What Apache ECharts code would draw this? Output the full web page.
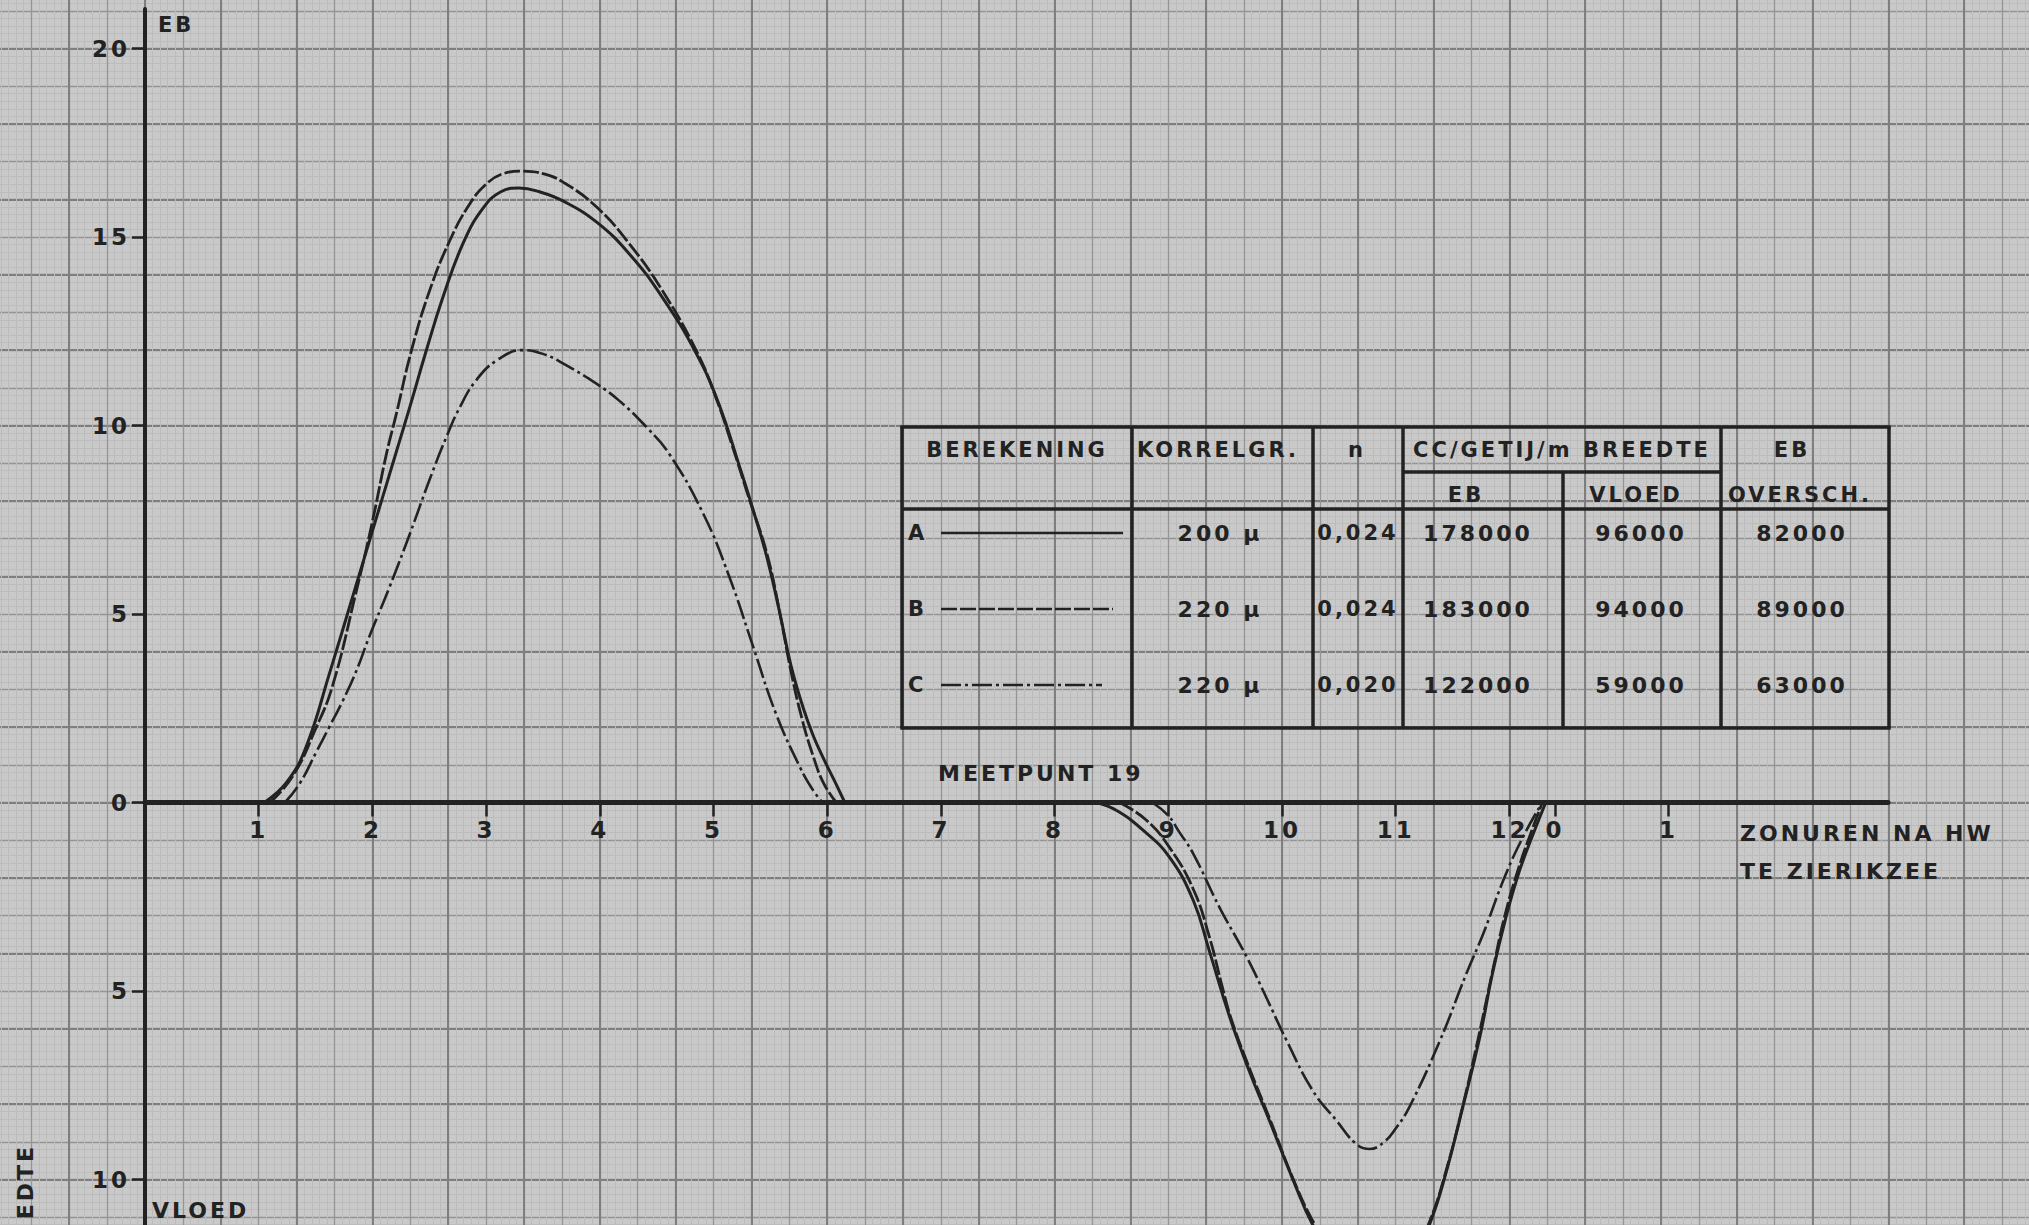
<!DOCTYPE html>
<html>
<head>
<meta charset="utf-8">
<script src="https://cdn.jsdelivr.net/npm/echarts@6/dist/echarts.min.js"></script>
<style>
html, body { margin: 0; padding: 0; background: #c9c9c9; }
#chart { width: 2029px; height: 1225px; }
#chart text { letter-spacing: 3px; }
</style>
</head>
<body>
<div id="chart"></div>
<script>
// ---------------- DATA ----------------
// x: hours after high water at Zierikzee; y: transport per m width (EB positive, VLOED negative)
const hourTicks = [1, 2, 3, 4, 5, 6, 7, 8, 9, 10, 11, 12, 12.4, 13.4];
const hourTickLabels = ['1', '2', '3', '4', '5', '6', '7', '8', '9', '10', '11', '12', '0', '1'];
const valueTicks = [-10, -5, 0, 5, 10, 15, 20];
const valueTickLabels = ['10', '5', '0', '5', '10', '15', '20'];

// Berekening A (solid)
const curveA_eb = [[1.05,0],[1.25,0.55],[1.42,1.5],[1.62,3.4],[1.85,5.7],[2.0,7.2],[2.18,9.0],[2.33,10.5],[2.47,11.95],[2.62,13.4],[2.8,14.85],[2.97,15.75],[3.13,16.2],[3.29,16.3],[3.47,16.2],[3.68,15.95],[3.97,15.4],[4.26,14.55],[4.55,13.4],[4.85,11.9],[5.05,10.55],[5.23,8.9],[5.35,7.75],[5.47,6.5],[5.585,5.0],[5.68,3.65],[5.79,2.5],[5.88,1.75],[5.97,1.15],[6.06,0.6],[6.155,0]];
const curveA_vloed = [[8.37,0],[8.55,-0.22],[8.78,-0.74],[9.01,-1.45],[9.22,-2.6],[9.36,-3.93],[9.54,-5.69],[9.71,-7.11],[9.89,-8.44],[10.1,-10.03],[10.27,-11.2],[10.5,-12.3],[10.75,-12.95],[10.95,-12.85],[11.15,-12.1],[11.3,-11.17],[11.44,-9.85],[11.59,-8.08],[11.74,-6.22],[11.85,-4.55],[11.97,-3.04],[12.09,-1.8],[12.21,-0.83],[12.32,0]];
// Berekening B (dashed)
const curveB_eb = [[1.10,0],[1.30,0.7],[1.50,1.95],[1.65,3.1],[1.85,5.5],[2.0,7.45],[2.12,9.2],[2.21,10.3],[2.34,11.95],[2.50,13.55],[2.68,14.9],[2.85,15.85],[3.0,16.4],[3.15,16.68],[3.32,16.75],[3.50,16.68],[3.68,16.45],[3.97,15.8],[4.26,14.82],[4.55,13.58],[4.85,11.98],[5.02,10.75],[5.15,9.6],[5.32,8.0],[5.47,6.6],[5.585,5.0],[5.68,3.5],[5.78,2.2],[5.88,1.2],[5.97,0.5],[6.08,0]];
const curveB_vloed = [[8.57,0],[8.8,-0.45],[9.01,-1.19],[9.22,-2.3],[9.36,-3.55],[9.48,-4.95],[9.56,-5.8],[9.72,-7.1],[9.9,-8.45],[10.1,-10.0],[10.28,-11.15],[10.5,-12.2],[10.75,-12.85],[10.95,-12.75],[11.15,-12.0],[11.3,-11.1],[11.44,-9.8],[11.59,-8.05],[11.73,-6.2],[11.85,-4.5],[11.96,-3.0],[12.08,-1.75],[12.19,-0.8],[12.29,0]];
// Berekening C (dash-dot)
const curveC_eb = [[1.23,0],[1.36,0.5],[1.50,1.3],[1.62,2.0],[1.74,2.7],[1.86,3.5],[1.97,4.38],[2.15,5.71],[2.33,7.13],[2.50,8.54],[2.65,9.69],[2.77,10.49],[2.91,11.19],[3.09,11.72],[3.32,12.0],[3.50,11.9],[3.68,11.64],[3.97,11.11],[4.17,10.66],[4.41,9.96],[4.61,9.25],[4.91,7.66],[5.14,5.98],[5.35,4.12],[5.55,2.35],[5.76,0.94],[5.87,0.35],[5.96,0]];
const curveC_vloed = [[8.86,0],[9.0,-0.35],[9.1,-0.8],[9.22,-1.36],[9.45,-2.78],[9.69,-4.1],[9.86,-5.16],[10.04,-6.31],[10.27,-7.64],[10.48,-8.44],[10.65,-9.05],[10.77,-9.19],[10.9,-9.0],[11.0,-8.65],[11.12,-8.08],[11.39,-6.31],[11.62,-4.55],[11.77,-3.48],[11.97,-1.89],[12.15,-0.74],[12.29,0]];

// Table
const tableHeaders = ['BEREKENING', 'KORRELGR.', 'n', 'CC/GETIJ/m BREEDTE', 'EB'];
const tableSubHeaders = ['EB', 'VLOED', 'OVERSCH.'];
const calcNames = ['A', 'B', 'C'];
const grainSizes = ['200 μ', '220 μ', '220 μ'];
const roughness = ['0,024', '0,024', '0,020'];
const ebTransport = ['178000', '183000', '122000'];
const floodTransport = ['96000', '94000', '59000'];
const ebSurplus = ['82000', '89000', '63000'];

// Texts
const axisTopLabel = 'EB';
const axisBottomLabel = 'VLOED';
const sideLabel = 'EDTE';
const stationLabel = 'MEETPUNT 19';
const xTitleLines = ['ZONUREN NA HW', 'TE ZIERIKZEE'];

// ---------------- LAYOUT / STYLE ----------------
const W = 2029, H = 1225;
const X0 = 145, PXH = 113.7;      // pixel of hour 0, pixels per hour
const Y0 = 802.5, PXV = 37.7;     // pixel of value 0, pixels per unit
const MMX = PXH / 15, MMY = PXV / 5;
const XEND = 1888, YTOP = 9;
const INK = '#222222';
const FONT = '"DejaVu Sans", sans-serif';
const xMax = (XEND - X0) / PXH;
const yMax = (Y0 - YTOP) / PXV;
const yMin = -(H - Y0) / PXV;

function pick(ticks, labels, v) {
  for (let i = 0; i < ticks.length; i++) if (Math.abs(ticks[i] - v) < 1e-6) return labels[i];
  return '';
}
function font(size) { return 'bold ' + size + 'px ' + FONT; }
function txt(text, x, y, size, align, extra) {
  return Object.assign({ type: 'text', x: x, y: y, z: 10, silent: true,
    style: { text: text, fill: INK, font: font(size), align: align || 'center', verticalAlign: 'middle' } }, extra || {});
}
function ln(x1, y1, x2, y2, w, dash) {
  return { type: 'line', z: 10, silent: true, shape: { x1: x1, y1: y1, x2: x2, y2: y2 },
    style: { stroke: INK, lineWidth: w, lineDash: dash || null, lineCap: 'butt' } };
}

const dashB = [16, 3];
const dashC = [20, 4, 3, 4];

// ---------------- GRAPHICS (annotations + table) ----------------
const g = [];
g.push(txt(axisTopLabel, 158, 25, 21, 'left'));
g.push(txt(axisBottomLabel, 152, 1210, 22, 'left'));
g.push(txt(sideLabel, 25, 1144, 22, 'right', { rotation: Math.PI / 2 }));
g.push(txt(stationLabel, 938, 773, 22, 'left'));
g.push(txt(xTitleLines[0], 1740, 833, 22, 'left'));
g.push(txt(xTitleLines[1], 1740, 871, 22, 'left'));

const T = { l: 902, r: 1889, t: 427, sub: 472, hb: 509, b: 728 };
const colX = [1132, 1313, 1403, 1721];
const subColX = 1563;
const BW = 3.5;
g.push(ln(T.l - 1.75, T.t, T.r + 1.75, T.t, BW));
g.push(ln(T.l, T.hb, T.r, T.hb, BW));
g.push(ln(T.l - 1.75, T.b, T.r + 1.75, T.b, BW));
g.push(ln(colX[2], T.sub, colX[3], T.sub, BW));
g.push(ln(T.l, T.t, T.l, T.b, BW));
g.push(ln(T.r, T.t, T.r, T.b, BW));
colX.forEach(function (x) { g.push(ln(x, T.t, x, T.b, BW)); });
g.push(ln(subColX, T.sub, subColX, T.b, BW));

const headerX = [1017, 1218, 1357, 1562, 1792];
tableHeaders.forEach(function (h, i) { g.push(txt(h, headerX[i], 450, 21)); });
const subHeaderX = [1466, 1636, 1800];
tableSubHeaders.forEach(function (h, i) { g.push(txt(h, subHeaderX[i], 495, 21)); });

const rowY = [533, 609, 685];
const sampleDash = [null, dashB, dashC];
const sampleEnd = [1123, 1113, 1102];
calcNames.forEach(function (name, i) {
  const y = rowY[i];
  g.push(txt(name, 908, y, 21, 'left'));
  g.push(ln(941, y, sampleEnd[i], y, 2.5, sampleDash[i]));
  g.push(txt(grainSizes[i], 1220, y, 22));
  g.push(txt(roughness[i], 1358, y, 21));
  g.push(txt(ebTransport[i], 1478, y, 22));
  g.push(txt(floodTransport[i], 1641, y, 22));
  g.push(txt(ebSurplus[i], 1802, y, 22));
});

// ---------------- CHART ----------------
function curve(data, dash, width) {
  return { type: 'line', xAxisIndex: 2, yAxisIndex: 2, data: data, smooth: 0.45,
    showSymbol: false, symbol: 'none', silent: true, z: 2, animation: false,
    lineStyle: { color: INK, width: width, type: dash, cap: 'butt', join: 'round' } };
}
function paperAxis(min, max, interval, color, width, minor) {
  return { gridIndex: 0, type: 'value', min: min, max: max, interval: interval, z: 0, silent: true,
    axisLine: { show: false }, axisTick: { show: false }, axisLabel: { show: false },
    minorTick: { show: false, splitNumber: 5 },
    minorSplitLine: { show: !!minor, lineStyle: { color: '#bcbcbc', width: 1 } },
    splitLine: { show: true, lineStyle: { color: color, width: width } } };
}
function hiddenAxis(grid, min, max) {
  return { gridIndex: grid, type: 'value', min: min, max: max, show: false,
    axisLine: { show: false }, axisTick: { show: false }, axisLabel: { show: false }, splitLine: { show: false } };
}
const labelStyle = { color: INK, fontFamily: FONT, fontWeight: 'bold', fontSize: 23 };

const chart = echarts.init(document.getElementById('chart'), null, { renderer: 'svg', width: W, height: H });
chart.setOption({
  animation: false,
  backgroundColor: '#c9c9c9',
  grid: [
    // graph paper (mm grid), extends a little past the canvas so its lines are aligned with the axes
    { left: X0 - 20 * MMX, right: W - (X0 + 250 * MMX), top: Y0 - 110 * MMY, bottom: H - (Y0 + 60 * MMY), outerBoundsMode: 'none', containLabel: false },
    // plotting area for the curves and the value axis
    { left: X0, right: W - XEND, top: YTOP, bottom: 0, outerBoundsMode: 'none', containLabel: false },
    // area whose bottom edge is the zero line: carries the hour axis
    { left: X0, right: W - XEND, top: YTOP, bottom: H - Y0, outerBoundsMode: 'none', containLabel: false }
  ],
  xAxis: [
    paperAxis(-20, 250, 5, '#959595', 1.3, true),
    paperAxis(-20, 250, 10, '#7e7e7e', 2, false),
    hiddenAxis(1, 0, xMax),
    { gridIndex: 2, type: 'value', min: 0, max: xMax, position: 'bottom', z: 3,
      axisLine: { show: true, onZero: false, lineStyle: { color: INK, width: 5 } },
      axisTick: { show: true, customValues: hourTicks, length: 14, inside: false, lineStyle: { color: INK, width: 2.5 } },
      axisLabel: Object.assign({ show: true, customValues: hourTicks, formatter: function (v) { return pick(hourTicks, hourTickLabels, v); },
        margin: 16 }, labelStyle),
      splitLine: { show: false } }
  ],
  yAxis: [
    paperAxis(-60, 110, 5, '#959595', 1.3, true),
    paperAxis(-60, 110, 10, '#7e7e7e', 2, false),
    { gridIndex: 1, type: 'value', min: yMin, max: yMax, position: 'left', z: 3,
      axisLine: { show: true, onZero: false, lineStyle: { color: INK, width: 4 } },
      axisTick: { show: true, customValues: valueTicks, length: 13, inside: false, lineStyle: { color: INK, width: 2.5 } },
      axisLabel: Object.assign({ show: true, customValues: valueTicks, formatter: function (v) { return pick(valueTicks, valueTickLabels, v); },
        margin: 15 }, labelStyle),
      splitLine: { show: false } },
    hiddenAxis(2, 0, yMax)
  ],
  series: [
    curve(curveA_eb, 'solid', 3),
    curve(curveA_vloed, 'solid', 3),
    curve(curveB_eb, dashB, 2.8),
    curve(curveB_vloed, dashB, 2.8),
    curve(curveC_eb, dashC, 2.6),
    curve(curveC_vloed, dashC, 2.6)
  ],
  graphic: g
});
</script>
</body>
</html>
